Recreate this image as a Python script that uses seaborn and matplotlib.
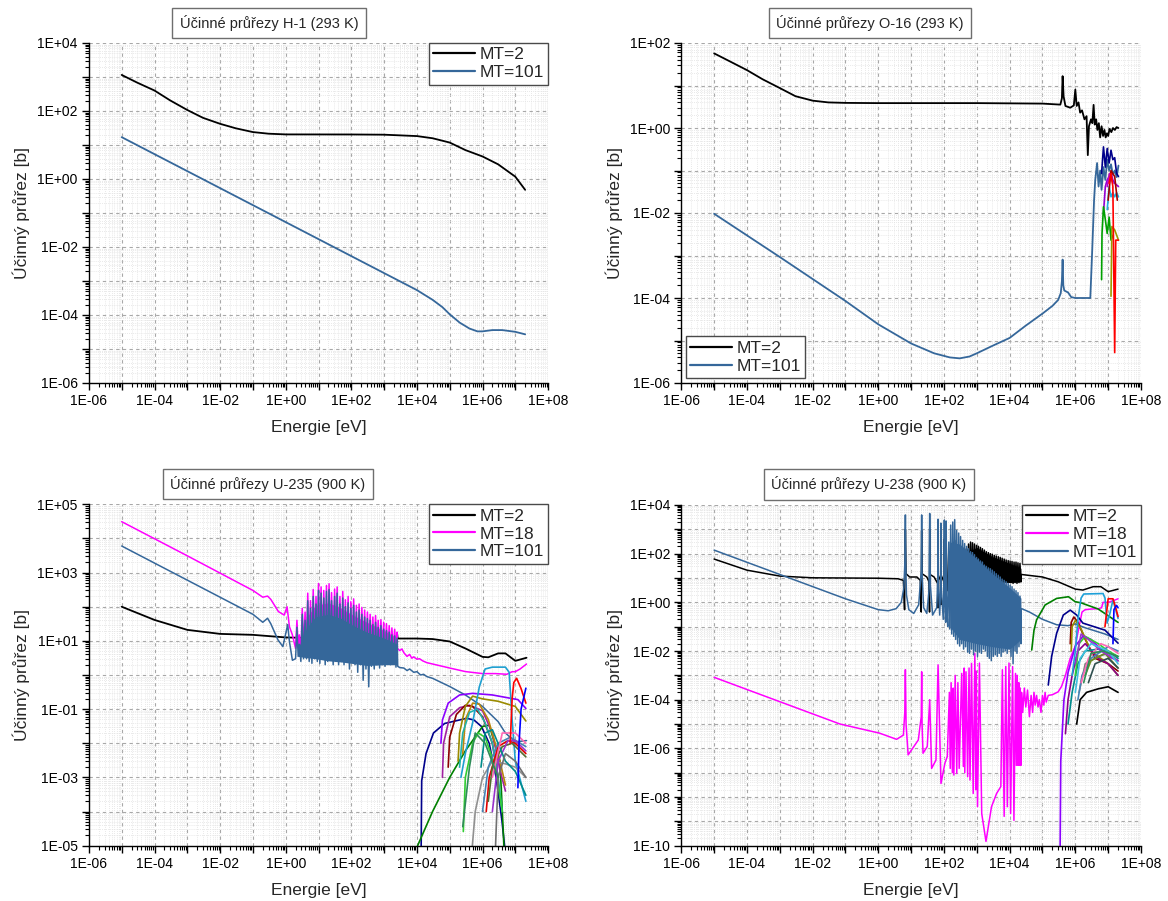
import numpy as np
import matplotlib
matplotlib.use("Agg")
import matplotlib.pyplot as plt
import seaborn as sns
from matplotlib.ticker import FixedLocator, LogLocator, FuncFormatter, NullFormatter
from matplotlib.lines import Line2D

# ---------------------------------------------------------------- data
titles = ["Účinné průřezy H-1 (293 K)", "Účinné průřezy O-16 (293 K)",
          "Účinné průřezy U-235 (900 K)", "Účinné průřezy U-238 (900 K)"]
x_label = "Energie [eV]"
y_label = "Účinný průřez [b]"
legend_labels_2 = ["MT=2", "MT=101"]
legend_labels_3 = ["MT=2", "MT=18", "MT=101"]

# H-1
h1_mt2 = [(1e-5, 1150), (3e-5, 680), (1e-4, 400), (3e-4, 205), (1e-3, 107), (3e-3, 63),
          (1e-2, 42), (3e-2, 31), (1e-1, 24), (3e-1, 21.5), (1, 20.5), (1e2, 20.4),
          (1e3, 20.1), (1e4, 18.3), (3e4, 15.8), (1e5, 11.8), (3e5, 7.1), (1e6, 4.6),
          (3e6, 2.7), (1e7, 1.17), (2e7, 0.48)]
h1_mt101 = [(1e-5, 17), (1e4, 5.4e-4), (3e4, 2.8e-4), (6e4, 1.7e-4), (1e5, 1.05e-4),
            (2e5, 6e-5), (4e5, 4e-5), (7e5, 3.3e-5), (1e6, 3.3e-5), (2e6, 3.6e-5),
            (4e6, 3.6e-5), (1e7, 3.2e-5), (2e7, 2.7e-5)]

# O-16
o16_mt2 = [(1e-5, 57), (3e-5, 37), (1e-4, 23), (3e-4, 14), (1e-3, 8.7), (3e-3, 5.6),
           (1e-2, 4.4), (3e-2, 4.0), (1e-1, 3.9), (1, 3.85), (1e3, 3.85), (1e5, 3.75),
           (3.5e5, 3.55), (3.9e5, 5), (4.1e5, 16.6), (4.4e5, 5.5), (5e5, 3.3), (7e5, 3.0),
           (9e5, 3.4), (1.0e6, 8), (1.1e6, 3.3), (1.25e6, 4.0), (1.4e6, 2.3), (1.6e6, 2.6),
           (1.9e6, 1.6), (2.2e6, 1.9), (2.4e6, 0.23), (2.6e6, 1.1), (3.0e6, 1.6),
           (3.3e6, 1.3), (3.6e6, 3.5), (3.9e6, 1.2), (4.3e6, 1.6), (4.7e6, 0.9),
           (5.2e6, 1.3), (5.7e6, 0.6), (6.3e6, 1.1), (7e6, 0.65), (7.7e6, 0.9),
           (8.4e6, 0.6), (9.2e6, 0.75), (1.0e7, 0.65), (1.1e7, 0.95), (1.25e7, 0.8),
           (1.4e7, 1.0), (1.6e7, 0.9), (1.8e7, 1.05), (2.05e7, 1.0)]
o16_mt101 = [(1e-5, 9.6e-3), (1e-3, 9.2e-4), (1e-1, 8.5e-5), (1, 2.4e-5), (10, 8.5e-6),
             (50, 5e-6), (150, 4e-6), (300, 3.8e-6), (600, 4.2e-6), (1e3, 5e-6),
             (3e3, 7.5e-6), (1e4, 1.15e-5), (3e4, 2.2e-5), (1e5, 4.3e-5), (2e5, 6.5e-5),
             (3e5, 9e-5), (3.6e5, 1.3e-4), (3.9e5, 2.5e-4), (4.1e5, 8e-4), (4.3e5, 2e-4),
             (4.6e5, 1.5e-4), (6e5, 1.35e-4), (7.5e5, 1.05e-4), (1e6, 1e-4),
             (2.86e6, 1e-4), (3.27e6, 1.35e-3), (3.72e6, 0.02), (4.04e6, 0.06),
             (4.6e6, 0.15), (5.1e6, 0.042), (5.7e6, 0.1), (6.3e6, 0.035), (7.2e6, 0.12),
             (8.2e6, 0.06), (9.35e6, 0.18), (1.07e7, 0.1), (1.22e7, 0.14), (1.39e7, 0.08),
             (1.58e7, 0.1), (1.81e7, 0.07), (2.06e7, 0.13)]
o16_other = [
    ("#00008B", [(6.3e6, 0.085), (7.2e6, 0.36), (8.2e6, 0.12), (9.35e6, 0.33), (1.07e7, 0.15),
                 (1.22e7, 0.3), (1.39e7, 0.18), (1.58e7, 0.2), (1.81e7, 0.085), (2.06e7, 0.072)]),
    ("#9400D3", [(7.2e6, 0.01), (8.2e6, 0.042), (9.35e6, 0.06), (1.07e7, 0.072), (1.22e7, 0.09),
                 (1.39e7, 0.06), (1.58e7, 0.05), (2.06e7, 0.042)]),
    ("#00A000", [(6.3e6, 2.7e-4), (6.5e6, 3.3e-3), (7.2e6, 0.014), (8.2e6, 7e-3), (9.35e6, 3.3e-3),
                 (1.07e7, 8e-3), (1.22e7, 2.3e-3), (1.4e7, 3e-3)]),
    ("#9A9A00", [(1.22e7, 1.1e-4), (1.3e7, 4.8e-3), (1.58e7, 4e-3), (2.06e7, 2.3e-3)]),
    ("#20B0E0", [(9.35e6, 0.012), (1.07e7, 0.042), (1.22e7, 0.024), (1.39e7, 0.03),
                 (1.58e7, 0.024), (1.81e7, 0.03), (2.06e7, 0.024)]),
    ("#A00000", [(1e7, 0.02), (1.22e7, 0.1), (1.58e7, 0.072), (1.9e7, 0.02)]),
    ("#C000C0", [(9.35e6, 0.042), (1.1e7, 0.085), (1.39e7, 0.05)]),
    ("#FF0000", [(1.07e7, 0.05), (1.22e7, 0.085), (1.39e7, 0.042), (1.58e7, 5.2e-6),
                 (1.7e7, 2.3e-3), (2.06e7, 2.3e-3)]),
]

# U-235
u235_res_e = [2.0, 2.2, 2.4, 2.6, 2.9, 3.2, 3.5, 3.9, 4.3, 4.7, 5.2, 5.7, 6.3, 6.9, 7.6, 8.4,
              9.2, 10, 11, 12, 13, 14.5, 16, 17.5, 19, 21, 23, 25, 28, 31, 34, 37, 41, 45,
              50, 55, 60, 66, 73, 80, 88, 97, 107, 118, 130, 143, 157, 173, 190, 210, 230,
              255, 280, 310, 340, 375, 410, 455, 500, 550, 600, 660, 730, 800, 880, 970,
              1070, 1180, 1300, 1430, 1570, 1730, 1900, 2100, 2300, 2500]
u235_mt101_res = [3, 25, 3.5, 8, 2.5, 60, 3, 40, 3, 150,
                  2.5, 90, 2.2, 200, 3, 120, 2.5, 300, 2.2, 250,
                  3, 180, 2, 280, 2.5, 320, 3, 150, 2, 200,
                  2.5, 250, 2, 120, 2.5, 180, 2, 100, 3, 130,
                  1.5, 90, 2.5, 110, 2, 70, 1.2, 80, 2, 60,
                  0.7, 50, 1.5, 45, 0.45, 40, 1.8, 30, 1.5, 35,
                  2, 25, 1.6, 28, 2, 22, 1.8, 20, 2.2, 18,
                  2, 15, 2.2, 14, 1.7, 12]
u235_mt18_res = [6, 40, 7, 15, 5, 90, 6, 70, 6, 250,
                 5, 150, 5, 320, 6, 200, 5, 480, 5, 380,
                 6, 300, 5, 420, 5, 470, 6, 260, 5, 330,
                 5, 380, 5, 200, 6, 280, 5, 160, 6, 200,
                 4, 140, 5, 170, 5, 110, 4, 120, 5, 95,
                 3, 80, 4, 70, 3, 60, 5, 50, 4, 55,
                 5, 40, 4, 42, 5, 35, 4.5, 32, 5, 28,
                 5, 24, 5, 22, 5, 18]
# dense resonance band (energy, lower edge, upper edge)
u235_mt101_band = [(2.4, 3.5, 6), (4.5, 3.2, 25), (8, 3, 50), (20, 2.6, 60), (50, 2.4, 45),
                   (100, 2.2, 30), (300, 1.9, 18), (1000, 2.0, 12), (2500, 2.0, 8)]
u235_mt18_band = [(4.5, 5, 50), (8, 5, 110), (20, 5, 130), (50, 5, 90), (100, 4.5, 60),
                  (300, 4.5, 35), (1000, 4.5, 20), (2500, 4.5, 12)]
u235_mt2 = [(1e-5, 100), (1e-4, 41), (1e-3, 21), (1e-2, 16), (1e-1, 15), (1, 12.6), (10, 12),
            (100, 12), (1000, 11.5), (2400, 12), (2500, 16), (2600, 11.7), (1e4, 11.7),
            (3e4, 11.3), (1e5, 9.6), (3e5, 6.0), (1e6, 3.4), (1.5e6, 3.3), (3e6, 4.3),
            (5e6, 4.3), (1e7, 2.6), (2.2e7, 3.2)]
u235_mt18_low = [(1e-5, 31000), (1e-3, 3100), (0.1, 300), (0.2, 190), (0.28, 205), (0.35, 165),
                 (0.6, 72), (0.9, 57), (1.1, 100), (1.3, 26), (1.6, 15)]
u235_mt18_high = [(2550, 6), (3000, 5.2), (3500, 5.8), (4000, 4.5), (5000, 3.5), (6000, 4),
                  (7000, 3.1), (8000, 3.4), (1e4, 2.9), (1.2e4, 3.0), (1.5e4, 2.6), (2e4, 2.3),
                  (3e4, 2.1), (1e5, 1.6), (3e5, 1.26), (1e6, 1.1), (2.5e6, 1.1), (5.5e6, 1.05),
                  (8e6, 1.25), (1e7, 1.25), (1.4e7, 1.5), (2.2e7, 2.1)]
u235_mt101_low = [(1e-5, 6000), (1e-3, 600), (0.1, 60), (0.2, 35), (0.28, 46), (0.35, 32),
                  (0.58, 10.7), (0.82, 6.8), (1.15, 30), (1.3, 9.5), (1.6, 2.7)]
u235_mt101_high = [(2600, 1.8), (3000, 1.65), (4000, 1.6), (5000, 1.35), (6000, 1.5),
                   (8000, 1.2), (1e4, 1.25), (1.3e4, 1.0), (1.6e4, 1.05), (2e4, 0.9),
                   (3e4, 0.8), (1e5, 0.46), (3e5, 0.26), (1e6, 0.12), (3e6, 0.043),
                   (5e6, 0.02), (1e7, 0.011), (2.2e7, 0.012)]
u235_other = [
    ("#00008B", [(1.35e4, 1e-5), (1.4e4, 8e-4), (1.9e4, 5e-3), (3.2e4, 0.02), (7e4, 0.038),
                 (3.3e5, 0.054), (5.5e5, 0.048), (9.3e5, 0.031), (1.6e6, 0.01), (2.6e6, 1e-3),
                 (3.9e6, 5.6e-5), (4.7e6, 1e-5)]),
    ("#008000", [(1.05e4, 1e-5), (3e4, 1e-4), (1e5, 1e-3), (3e5, 6e-3), (1e6, 0.031),
                 (1.6e6, 0.034), (3.4e6, 3e-3), (4.5e6, 1e-5)]),
    ("#8B00FF", [(5.4e4, 0.01), (6e4, 0.048), (9e4, 0.15), (2e5, 0.26), (5e5, 0.29),
                 (2e6, 0.26), (1.2e7, 0.19), (2.1e7, 0.105)]),
    ("#A020A0", [(6e4, 1e-3), (6.5e4, 0.01), (1e5, 0.06), (2e5, 0.11), (4e5, 0.13),
                 (1e6, 0.09), (2e6, 0.02), (3.5e6, 1.5e-3), (5e6, 4e-4)]),
    ("#8B0000", [(9e4, 2e-3), (1e5, 0.015), (1.6e5, 0.07), (3e5, 0.13), (5e5, 0.12),
                 (1e6, 0.06), (2e6, 0.01), (3e6, 1e-3)]),
    ("#9A8A00", [(1.8e5, 3e-3), (2e5, 0.02), (3e5, 0.12), (5e5, 0.24), (1e6, 0.2),
                 (3e6, 0.17), (1e7, 0.12), (2.1e7, 0.045)]),
    ("#B8860B", [(2.5e5, 5e-3), (3e5, 0.05), (5e5, 0.15), (8e5, 0.14), (1.5e6, 0.05),
                 (3e6, 5e-3), (5e6, 6e-4)]),
    ("#20B2AA", [(2e5, 2e-3), (2.5e5, 0.02), (4e5, 0.08), (7e5, 0.1), (1.2e6, 0.04),
                 (2e6, 0.01), (3e6, 1e-3), (4e6, 1e-4)]),
    ("#1E9FD0", [(2.2e5, 1e-3), (3e5, 5e-3), (5e5, 0.04), (8e5, 0.45), (1.2e6, 1.5),
                 (2e6, 1.7), (5e6, 1.7), (6.5e6, 1.2), (8e6, 0.05), (1e7, 3e-3), (2.1e7, 2e-4)]),
    ("#32CD32", [(2.6e5, 2.6e-5), (3e5, 1e-3), (5e5, 0.01), (7.4e5, 0.02), (1.2e6, 0.015),
                 (2.5e6, 2e-3), (4e6, 1e-4)]),
    ("#909090", [(4.9e5, 1e-5), (6e5, 1e-4), (1e6, 1e-3), (2e6, 3e-3), (5e6, 2.5e-3),
                 (1e7, 2e-3), (2.1e7, 1e-3)]),
    ("#E00000", [(1.3e6, 1e-4), (1.6e6, 1e-3), (3e6, 8e-3), (6e6, 0.012), (1e7, 0.01),
                 (2.1e7, 5e-3)]),
    ("#4682B4", [(1e6, 1e-4), (1.5e6, 2e-3), (3e6, 0.01), (7e6, 0.015), (2.1e7, 8e-3)]),
    ("#556B2F", [(1.5e6, 2e-4), (2e6, 2e-3), (4e6, 8e-3), (8e6, 0.01), (2.1e7, 4e-3)]),
    ("#9932CC", [(2e6, 1e-4), (3e6, 3e-3), (6e6, 0.012), (1e7, 0.012), (2.1e7, 6e-3)]),
    ("#008B8B", [(9e5, 2e-3), (1.2e6, 0.02), (2e6, 0.025), (5e6, 3e-3), (1e7, 1.5e-3),
                 (2.1e7, 3e-4)]),
    ("#707070", [(2.5e6, 1e-5), (3e6, 1e-3), (5e6, 5e-3), (1e7, 3e-3), (2.1e7, 1e-3)]),
    ("#FF69B4", [(2e6, 1e-3), (4e6, 0.02), (1e7, 0.02), (2.1e7, 0.01)]),
    ("#2E8B57", [(2.5e5, 3.6e-5), (4e5, 2e-3), (6e5, 0.02), (1.2e6, 0.01), (3e6, 1e-3)]),
    ("#FF0000", [(7e6, 0.01), (8e6, 0.2), (9e6, 0.6), (1.1e7, 0.8), (1.5e7, 0.4), (2.1e7, 0.15)]),
    ("#0000FF", [(1.2e7, 5e-4), (1.3e7, 0.01), (1.5e7, 0.1), (2.1e7, 0.41)]),
]

# U-238
u238_res_e = [130, 140, 150, 160, 172, 185, 198, 212, 227, 243, 260, 280, 300, 320, 345, 370,
              395, 425, 455, 490, 525, 560, 600, 645, 690, 740, 795, 850, 910, 980, 1050, 1120,
              1200, 1290, 1380, 1480, 1590, 1700, 1820, 1950, 2100, 2250, 2400, 2580, 2760,
              2960, 3170, 3400, 3650, 3900, 4200, 4500, 4800, 5150, 5500, 5900, 6300, 6800,
              7300, 7800, 8400, 9000, 9600, 10300, 11000, 11800, 12700, 13600, 14600, 15600,
              16700, 17900, 19200, 20600, 22000]
u238_mt101_res = [0.1, 300, 0.08, 1500, 0.05, 2000, 0.04, 2500, 0.03, 900,
                  0.02, 700, 0.016, 500, 0.02, 350, 0.012, 260, 0.015, 200,
                  0.009, 160, 0.008, 120, 0.012, 110, 0.007, 90, 0.01, 70,
                  0.006, 60, 0.009, 50, 0.008, 45, 0.012, 34, 0.01, 30,
                  0.006, 26, 0.005, 24, 0.004, 21, 0.006, 18, 0.007, 15,
                  0.006, 13, 0.008, 11, 0.006, 9, 0.009, 8, 0.01, 7,
                  0.008, 6, 0.012, 5, 0.006, 4.4, 0.003, 3.5, 0.01, 3,
                  0.008, 2.5, 0.015, 1.8, 0.02]
u238_mt2_res = [3, 120, 4, 250, 3.5, 300, 3, 350, 4, 200,
                5, 200, 4, 180, 5, 150, 4.5, 160, 5, 150,
                5.5, 250, 5, 300, 6, 280, 5, 250, 6, 220,
                5.5, 200, 6, 180, 6.5, 160, 6, 140, 7, 120,
                6.5, 110, 7, 100, 6.5, 95, 7, 85, 7.5, 80,
                7, 75, 7.5, 70, 7, 65, 7.5, 60, 7, 55,
                7.5, 52, 7, 50, 6.5, 48, 6, 45, 6.5, 45,
                6, 42, 6.5, 40, 7]
u238_mt101_band = [(150, 0.1, 300), (300, 0.03, 250), (1000, 0.02, 60), (3000, 0.015, 15),
                   (1e4, 0.012, 4), (2.2e4, 0.03, 1.5)]
u238_mt2_band = [(500, 8, 120), (1000, 8, 180), (3000, 7, 75), (1e4, 6.5, 40), (2.2e4, 7, 25)]
u238_mt2_low = [(1e-5, 60), (1e-4, 21), (1e-3, 12), (1e-2, 10.2), (1, 9.8), (4, 9.3), (5.8, 8),
                (6.3, 0.5), (6.67, 1000), (7.0, 15), (9, 11), (15, 11), (19, 8), (20.3, 0.4),
                (20.9, 900), (21.5, 15), (30, 11), (35, 7), (36.3, 0.4), (36.7, 1000),
                (37.5, 14), (50, 11), (64, 6), (65.6, 0.6), (66, 500), (67, 13), (78, 8),
                (80.3, 0.8), (80.7, 300), (82, 13), (100, 7), (102, 1), (102.5, 400), (104, 13),
                (115, 6), (116.5, 1), (117, 300), (120, 12)]
u238_mt2_high = [(22500, 14), (1e5, 11), (3e5, 7), (1e6, 3.5), (1.7e6, 3.2), (3.5e6, 4.4),
                 (6e6, 4.4), (1e7, 2.75), (2e7, 3.5)]
u238_mt101_low = [(1e-5, 140), (1e-3, 14), (0.1, 1.4), (1.0, 0.5), (2.0, 0.45), (3.5, 0.55),
                  (5.0, 1.0), (6.0, 4), (6.5, 60), (6.67, 3900), (6.85, 40), (7.2, 2),
                  (8.5, 0.5), (12, 0.35), (17, 0.8), (20.3, 20), (20.9, 3900), (21.5, 15),
                  (24, 0.6), (30, 0.35), (35, 3), (36.7, 4500), (38.5, 5), (45, 0.3), (60, 0.6),
                  (65, 10), (66, 2600), (67.5, 6), (74, 0.3), (79, 4), (80.7, 1800), (82, 5),
                  (95, 0.2), (101, 8), (102.5, 2400), (104, 3), (112, 0.15), (116, 8),
                  (117, 2200), (119, 2), (125, 0.3)]
u238_mt101_high = [(22500, 0.56), (4e4, 0.4), (1e5, 0.2), (2.7e5, 0.12), (6e5, 0.11),
                   (1e6, 0.13), (2e6, 0.09), (8e6, 0.05), (2e7, 0.03)]
u238_mt18 = [(1e-5, 8.3e-4), (0.068, 1e-5), (1.1, 4.2e-6), (3.6, 2.35e-6), (5.8, 3.5e-6),
             (6.4, 3e-5), (6.67, 1.7e-3), (7.0, 1e-5), (8.1, 5.4e-7), (16.5, 2.2e-6),
             (20.3, 2e-5), (20.9, 1.4e-3), (21.5, 1e-5), (23, 6.3e-7), (31, 1.2e-6),
             (36.7, 1e-4), (42, 1.5e-7), (57, 3.3e-7), (66, 2.7e-3), (81, 3.6e-8),
             (107, 2.5e-7), (126, 4.6e-7), (146, 2e-4), (155, 1.5e-7), (165, 5e-4),
             (180, 1e-7), (190, 3e-4), (200, 8e-8), (219, 1e-3), (245, 9.3e-8), (265, 5e-4),
             (290, 1.5e-7), (347, 1.2e-3), (389, 1.8e-7), (410, 2e-3), (430, 1e-7),
             (468, 1.4e-3), (525, 6.9e-8), (580, 2e-3), (620, 5e-8), (690, 3.1e-3),
             (776, 1.4e-8), (870, 8e-3), (930, 2e-8), (960, 1.5e-3), (1050, 4e-9),
             (1200, 3.2e-3), (1410, 2.1e-9), (1900, 1.5e-10), (2800, 4e-9), (4000, 1.4e-8),
             (5400, 2.7e-8), (6000, 1.7e-3), (6800, 1.6e-9), (7600, 2.3e-3), (8500, 4e-9),
             (9550, 3.2e-3), (1.07e4, 2.1e-9), (1.23e4, 2.3e-3), (1.35e4, 1.1e-9),
             (1.51e4, 1.2e-3), (1.6e4, 2e-7), (1.7e4, 1e-3), (1.8e4, 2e-7), (1.9e4, 5e-4),
             (2.0e4, 2e-7), (2.1e4, 3e-4), (2.2e4, 2e-7), (2.3e4, 2e-4), (2.5e4, 3e-5),
             (2.8e4, 3e-4), (3.1e4, 5e-5), (3.5e4, 2.5e-4), (4e4, 2e-5), (4.5e4, 1.5e-4),
             (5e4, 3e-5), (5.5e4, 2e-4), (6e4, 6e-5), (6.6e4, 1.5e-4), (7.3e4, 5e-5),
             (8e4, 1e-4), (9e4, 3e-5), (1e5, 1.5e-4), (1.1e5, 6e-5), (1.2e5, 2e-4),
             (1.3e5, 8e-5), (1.5e5, 1.5e-4), (2e5, 1.6e-4), (3e5, 2.1e-4), (3.8e5, 3.5e-4),
             (5e5, 1e-3), (7e5, 5e-3), (1e6, 0.016), (1.3e6, 0.1), (1.6e6, 0.4), (2e6, 0.5),
             (3e6, 0.53), (5e6, 0.55), (6.3e6, 0.6), (7e6, 1.0), (1e7, 1.0), (1.5e7, 1.2),
             (2e7, 1.4)]
u238_other = [
    ("#008000", [(4.7e4, 0.011), (5.5e4, 0.07), (6.6e4, 0.19), (1.2e5, 0.78), (2.7e5, 1.45),
                 (6.2e5, 1.7), (9.8e5, 1.07), (1.5e6, 0.95), (5e6, 0.53), (2e7, 0.15)]),
    ("#00008B", [(1.5e5, 4e-4), (1.9e5, 6e-3), (2.7e5, 0.054), (4.3e5, 0.3), (7e5, 0.48),
                 (1.1e6, 0.3), (1.7e6, 0.14), (8e6, 0.072), (2e7, 0.021)]),
    ("#8B00FF", [(3.45e5, 1e-10), (3.6e5, 3e-7), (4.5e5, 1e-4), (6e5, 1.3e-3), (1e6, 0.016),
                 (1.7e6, 0.04), (3e6, 0.03), (6e6, 0.012), (1e7, 6e-3), (2e7, 4e-3)]),
    ("#8B0000", [(7e5, 0.02), (7.5e5, 0.15), (9e5, 0.25), (1.2e6, 0.15), (2e6, 0.03),
                 (4e6, 5e-3), (1e7, 3e-3), (2e7, 1.5e-3)]),
    ("#9A8A00", [(7.5e5, 0.01), (8e5, 0.1), (1e6, 0.18), (1.5e6, 0.08), (3e6, 0.01),
                 (1e7, 3e-3), (2e7, 1e-3)]),
    ("#000000", [(1.1e6, 1e-5), (1.4e6, 1e-4), (2.2e6, 2e-4), (5e6, 2.8e-4), (1e7, 3.4e-4),
                 (2e7, 2e-4)]),
    ("#8B008B", [(5e5, 4e-6), (6e5, 1e-4), (8e5, 1e-3), (1.2e6, 0.01), (2e6, 0.02),
                 (5e6, 5e-3), (1e7, 3e-3), (2e7, 1e-3)]),
    ("#008B8B", [(6e5, 1e-5), (8e5, 2e-4), (1.2e6, 3e-3), (2e6, 0.01), (5e6, 0.012),
                 (1e7, 0.01), (2e7, 5e-3)]),
    ("#32CD32", [(1e6, 1e-3), (1.3e6, 0.02), (2e6, 0.04), (5e6, 0.02), (1e7, 0.01), (2e7, 6e-3)]),
    ("#808080", [(1.3e6, 2e-4), (2e6, 3e-3), (5e6, 6e-3), (1e7, 8e-3), (2e7, 4e-3)]),
    ("#4682B4", [(1.2e6, 1e-4), (1.6e6, 1e-3), (3e6, 5e-3), (1e7, 0.015), (2e7, 0.01)]),
    ("#FF69B4", [(1.5e6, 5e-4), (2.5e6, 5e-3), (6e6, 0.02), (1e7, 0.015), (2e7, 8e-3)]),
    ("#6B8E23", [(2e6, 1e-3), (3e6, 4e-3), (8e6, 8e-3), (2e7, 2e-3)]),
    ("#9932CC", [(1e6, 3e-3), (1.5e6, 0.05), (2.5e6, 0.03), (6e6, 0.01), (2e7, 4e-3)]),
    ("#40C0E0", [(1e6, 2e-4), (1.4e6, 5e-3), (3e6, 0.02), (1e7, 0.01), (2e7, 3e-3)]),
    ("#2F4F4F", [(2.5e6, 5e-4), (4e6, 3e-3), (1e7, 5e-3), (2e7, 2e-3)]),
    ("#2E8B57", [(1.8e6, 5e-4), (3e6, 8e-3), (7e6, 0.01), (2e7, 6e-3)]),
    ("#1EA0D8", [(8e5, 1e-3), (1e6, 0.01), (1.2e6, 0.2), (1.5e6, 1.5), (1.8e6, 2.2), (7e6, 2.3),
                 (8e6, 1.5), (9.3e6, 0.14), (1.1e7, 0.3), (1.4e7, 1.25), (1.7e7, 0.5), (2e7, 0.22)]),
    ("#FF0000", [(8e6, 0.1), (1e7, 1.4), (1.4e7, 1.4), (1.7e7, 0.6), (2e7, 0.26)]),
    ("#0000FF", [(1.4e7, 0.02), (1.5e7, 0.5), (1.8e7, 0.75), (2e7, 0.6)]),
]

assert len(u235_res_e) == len(u235_mt101_res) == len(u235_mt18_res)
assert len(u238_res_e) == len(u238_mt101_res) == len(u238_mt2_res)

# ---------------------------------------------------------------- style
sns.set_theme(style="white")
plt.rcParams["font.family"] = ["Liberation Sans", "DejaVu Sans"]

W, H = 1168, 901
fig = plt.figure(figsize=(W / 100, H / 100), dpi=100)

C_MT2, C_MT18, C_MT101 = "#000000", "#FF00FF", "#35679A"


def axes_px(l, t, r, b):
    return fig.add_axes([l / W, 1 - b / H, (r - l) / W, (b - t) / H])


def draw(ax, pts, color, lw=1.3, z=2):
    xs = [p[0] for p in pts]
    ys = [p[1] for p in pts]
    sns.lineplot(x=xs, y=ys, ax=ax, color=color, linewidth=lw, sort=False,
                 estimator=None, errorbar=None, legend=False, zorder=z)


def band(ax, rows, color, z=2):
    e = [r[0] for r in rows]
    lo = [r[1] for r in rows]
    hi = [r[2] for r in rows]
    ax.fill_between(e, lo, hi, color=color, linewidth=0, zorder=z)


def label_fmt(base):
    def f(v, pos):
        k = int(round(np.log10(v)))
        return f"1E{k:+03d}" if (k - base) % 2 == 0 else ""
    return FuncFormatter(f)


def style(ax, ylo, yhi):
    ax.set_xscale("log")
    ax.set_yscale("log")
    ax.set_xlim(1e-6, 1e8)
    ax.set_ylim(10.0 ** ylo, 10.0 ** yhi)
    ax.xaxis.set_major_locator(FixedLocator([10.0 ** k for k in range(-6, 9)]))
    ax.yaxis.set_major_locator(FixedLocator([10.0 ** k for k in range(ylo, yhi + 1)]))
    ax.xaxis.set_minor_locator(LogLocator(base=10, subs=np.arange(2, 10) * 1.0, numticks=100))
    ax.yaxis.set_minor_locator(LogLocator(base=10, subs=np.arange(2, 10) * 1.0, numticks=100))
    ax.xaxis.set_major_formatter(label_fmt(-6))
    ax.yaxis.set_major_formatter(label_fmt(ylo))
    ax.xaxis.set_minor_formatter(NullFormatter())
    ax.yaxis.set_minor_formatter(NullFormatter())
    ax.grid(True, which="minor", color="#E2E2E2", linestyle=(0, (1, 1.5)), linewidth=0.6)
    ax.grid(True, which="major", color="#A8A8A8", linestyle=(0, (3, 3)), linewidth=0.8)
    ax.set_axisbelow(True)
    for s in ("top", "right"):
        ax.spines[s].set_visible(False)
    for s in ("left", "bottom"):
        ax.spines[s].set_color("black")
        ax.spines[s].set_linewidth(1.0)
    ax.tick_params(which="major", direction="out", length=5, width=1, colors="black",
                   labelsize=10, left=True, bottom=True, pad=3)
    ax.tick_params(which="minor", direction="out", length=3, width=0.8, colors="black",
                   left=True, bottom=True)
    ax.set_xlabel(x_label, fontsize=12.5, labelpad=8.5)
    ax.set_ylabel(y_label, fontsize=12.5, labelpad=5)
    ax.set_facecolor("white")


def title_box(text, cx, cy):
    fig.text(cx / W, 1 - cy / H, text, ha="center", va="center", fontsize=10.5,
             bbox=dict(boxstyle="square,pad=0.5", fc="white", ec="#6E6E6E", lw=1.0))


def legend(ax, labels, colors, loc, anchor):
    handles = [Line2D([0], [0], color=c, lw=1.6) for c in colors]
    leg = ax.legend(handles, labels, loc=loc, bbox_to_anchor=anchor, borderaxespad=0,
                    frameon=True, fancybox=False, fontsize=12.5, handlelength=2.4,
                    handletextpad=0.25, labelspacing=0.15, borderpad=0.25, framealpha=1)
    leg.get_frame().set_edgecolor("#4A4A4A")
    leg.get_frame().set_linewidth(1.0)
    leg.set_zorder(10)


# ---------------------------------------------------------------- panel 1: H-1
ax1 = axes_px(88.9, 43, 548.1, 383)
style(ax1, -6, 4)
draw(ax1, h1_mt2, C_MT2)
draw(ax1, h1_mt101, C_MT101)
legend(ax1, legend_labels_2, [C_MT2, C_MT101], "upper right", (1.0, 1.0))
title_box(titles[0], 269, 23)

# ---------------------------------------------------------------- panel 2: O-16
ax2 = axes_px(681.3, 43, 1141, 383)
style(ax2, -6, 2)
draw(ax2, o16_mt2, C_MT2)
draw(ax2, o16_mt101, C_MT101)
for col, pts in o16_other:
    draw(ax2, pts, col, lw=1.2)
legend(ax2, legend_labels_2, [C_MT2, C_MT101], "lower left", (0.0102, 0.0147))
title_box(titles[1], 870, 23)

# ---------------------------------------------------------------- panel 3: U-235
ax3 = axes_px(88.9, 504.3, 548.1, 845.7)
style(ax3, -5, 5)
draw(ax3, u235_mt2, C_MT2)
band(ax3, u235_mt18_band, C_MT18)
draw(ax3, u235_mt18_low + list(zip(u235_res_e, u235_mt18_res)) + u235_mt18_high, C_MT18, lw=1.1)
band(ax3, u235_mt101_band, C_MT101)
draw(ax3, u235_mt101_low + list(zip(u235_res_e, u235_mt101_res)) + u235_mt101_high, C_MT101, lw=1.1)
for col, pts in u235_other:
    draw(ax3, pts, col, lw=1.2)
legend(ax3, legend_labels_3, [C_MT2, C_MT18, C_MT101], "upper right", (1.0, 1.0))
title_box(titles[2], 268, 484)

# ---------------------------------------------------------------- panel 4: U-238
ax4 = axes_px(681.3, 505, 1141, 845.7)
style(ax4, -10, 4)
band(ax4, u238_mt2_band, C_MT2)
draw(ax4, u238_mt2_low + list(zip(u238_res_e, u238_mt2_res)) + u238_mt2_high, C_MT2, lw=1.1)
draw(ax4, u238_mt18, C_MT18, lw=1.1)
band(ax4, u238_mt101_band, C_MT101)
draw(ax4, u238_mt101_low + list(zip(u238_res_e, u238_mt101_res)) + u238_mt101_high, C_MT101, lw=1.1)
for col, pts in u238_other:
    draw(ax4, pts, col, lw=1.2)
legend(ax4, legend_labels_3, [C_MT2, C_MT18, C_MT101], "upper right", (1.0, 1.0))
title_box(titles[3], 869, 484.5)

fig.savefig("out.png", dpi=100, facecolor="white")
